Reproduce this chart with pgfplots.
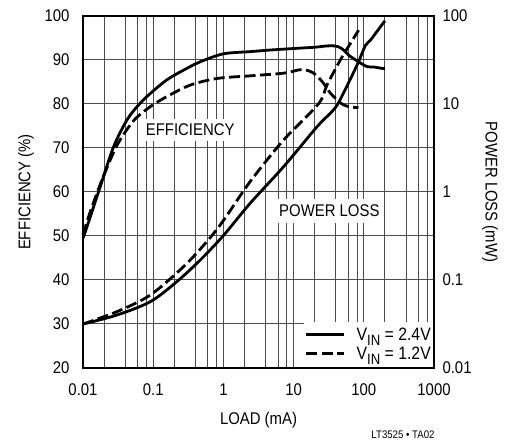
\documentclass[border=0pt]{standalone}
\usepackage{fontspec}
\setmainfont{Liberation Sans}[FakeStretch=0.88]
\usepackage{pgfplots}
\pgfplotsset{compat=1.18}

\newcommand\lbl{\fontsize{17}{20}\selectfont}
\newcommand\leg{\fontsize{18}{20}\selectfont}
\newcommand\vin{V\raisebox{-5.5bp}{\fontsize{15}{15}\selectfont IN}}

\pgfplotsset{
  solcurve/.style={line width=2.8bp, black, smooth, tension=0.5},
  dashcurve/.style={line width=2.8bp, black, smooth, tension=0.5, dash pattern=on 11bp off 4.5bp},
}

\begin{document}
\begin{tikzpicture}[x=1bp,y=1bp]
\useasboundingbox (0,0) rectangle (505,442);

% left axis: efficiency
\begin{axis}[
    at={(83bp,74bp)}, anchor=south west,
    scale only axis, width=351bp, height=352bp,
    xmode=log, xmin=0.01, xmax=1000,
    ymin=20, ymax=100,
    major tick length=0pt, minor tick length=0pt,
    axis line style={line width=1.2bp},
    tick label style={font=\lbl},
    label style={font=\lbl},
    clip=false,
    ytick={20,30,40,50,60,70,80,90,100},
    yticklabels={20,30,40,50,60,70,80,90,100},
    xtick={0.01,0.1,1,10,100,1000},
    xticklabels={0.01,0.1,1,10,100,1000},
    minor xtick={0.02,0.04,0.06,0.08,0.2,0.4,0.6,0.8,2,4,6,8,20,40,60,80,200,400,600,800},
    xmajorgrids, xminorgrids, ymajorgrids,
    major grid style={black!70, line width=1bp},
    minor grid style={black!70, line width=1bp},
    xticklabel style={yshift=-12bp},
    yticklabel style={xshift=-10bp},
    xlabel style={at={(axis description cs:0.5,0)}, anchor=center, yshift=-52bp},
    ylabel style={at={(axis description cs:-0.1624,0.5)}, anchor=center},
    xlabel={LOAD (mA)},
    ylabel={EFFICIENCY (\%)},
]
\node[fill=white, inner xsep=4bp, inner ysep=5bp, font=\lbl] at (axis cs:0.337,74.2) {EFFICIENCY};
\node[fill=white, inner xsep=4bp, inner ysep=6bp, font=\lbl] at (axis cs:32.3,55.7) {POWER LOSS};

\addplot[solcurve] coordinates {
(0.01,49.5) (0.0114,52.1) (0.0176,61.2) (0.0273,70.3) (0.0424,76.4) (0.062,79.8)
(0.091,82.4) (0.157,85.5) (0.271,87.7) (0.469,89.6) (1.0,91.4) (2.4,91.9) (5,92.3)
(12.4,92.7) (20,92.9) (30,93.2) (38,93.2) (45,92.9) (52,92.2) (62,91.0) (84,89.6)
(111,88.5) (140,88.4) (181,88.1) (200,88.1)
};
\addplot[dashcurve] coordinates {
(0.01,50.3) (0.0125,55.2) (0.0186,62.7) (0.0305,70.6) (0.0526,76.2) (0.091,79.4) (0.157,81.7)
(0.338,84.3) (0.81,85.8) (2.4,86.4) (7.2,87.0) (12.4,87.8) (16,87.6) (19.3,87.0)
(23,85.9) (27,84.6) (33.3,82.5) (43.8,80.6) (51.5,79.8) (65,79.3) (84,79.2)
};
\end{axis}

% right axis: power loss
\begin{axis}[
    at={(83bp,74bp)}, anchor=south west,
    scale only axis, width=351bp, height=352bp,
    xmode=log, xmin=0.01, xmax=1000,
    ymode=log, ymin=0.01, ymax=100,
    major tick length=0pt, minor tick length=0pt,
    axis line style={line width=1.2bp},
    tick label style={font=\lbl},
    label style={font=\lbl},
    clip=false,
    axis x line=none, axis y line*=right,
    ytick={0.01,0.1,1,10,100},
    yticklabels={0.01,0.1,1,10,100},
    yticklabel style={xshift=5bp},
    ylabel style={at={(axis description cs:1.1595,0.5)}, anchor=center, rotate=180},
    ylabel={POWER LOSS (mW)},
    legend style={at={(1,0)}, anchor=south east, xshift=-1bp, yshift=1bp,
      draw=none, fill=white, inner xsep=1bp, inner ysep=5bp,
      font=\leg, row sep=3bp, cells={anchor=west},
      nodes={inner sep=1bp},
      /tikz/every odd column/.append style={column sep=10bp}},
    legend image code/.code={\draw[#1] (0bp,0bp) -- (38bp,0bp);},
]
\addplot[solcurve] coordinates {
(0.01,0.0316) (0.0305,0.04) (0.091,0.0567) (0.218,0.096) (0.469,0.169) (1.0,0.32)
(2.4,0.744) (7.2,1.94) (21.5,5.5) (35.2,8.2) (43.8,10.4) (64.3,19.2) (84.3,30.3)
(105,46) (124,53) (146,63) (191,84) (200,88)
};
\addlegendentry{\vin{} = 2.4V\hspace{9bp}}
\addplot[dashcurve] coordinates {
(0.01,0.0316) (0.0305,0.0437) (0.091,0.0675) (0.271,0.142) (0.55,0.26) (0.955,0.45)
(2.4,1.31) (7.2,3.9) (22.5,10) (29.9,16.4) (46.3,31.6) (84.3,69)
};
\addlegendentry{\vin{} = 1.2V\hspace{9bp}}
\end{axis}

\node[font=\fontsize{11}{11}\selectfont] at (403,7) {LT3525 • TA02};
\end{tikzpicture}
\end{document}
